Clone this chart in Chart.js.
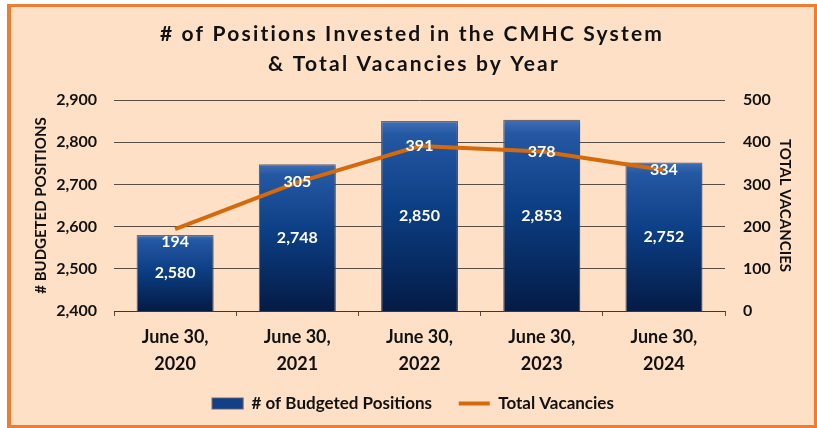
<!DOCTYPE html>
<html>
<head>
<meta charset="utf-8">
<script src="https://cdn.jsdelivr.net/npm/chart.js@4.4.1/dist/chart.umd.min.js"></script>
<style>
  html, body { margin: 0; padding: 0; background: #fff; }
  #frame {
    position: absolute; left: 7px; top: 4px; width: 810px; height: 424px;
    box-sizing: border-box; border-style: solid; border-color: #EE7D31;
    border-width: 3px 3px 3px 4px; background: #FDE0C5;
  }
  #cvs { position: absolute; left: 0; top: 0; }
</style>
</head>
<body>
<div id="frame"></div>
<canvas id="cvs" width="817" height="428"></canvas>
<script>
(function () {
  'use strict';

  // --- Data ---
  var years = [['June 30,', '2020'], ['June 30,', '2021'], ['June 30,', '2022'], ['June 30,', '2023'], ['June 30,', '2024']];
  var positions = [2580, 2748, 2850, 2853, 2752];
  var vacancies = [194, 305, 391, 378, 334];
  var titleLines = ['# of Positions Invested in the CMHC System', '& Total Vacancies by Year'];

  var FONT = 'Lato, "Open Sans", sans-serif';
  var INK = '#111111';
  var GRID = 'rgba(60, 52, 46, 0.85)';
  var ORANGE = '#D46A0C';

  function fmt(v) {
    return v.toLocaleString('en-US');
  }

  // per-bar vertical gradient, light top to dark navy bottom
  function barFill(ctx) {
    var chart = ctx.chart;
    var y = chart.scales && chart.scales.y;
    if (ctx.type !== 'data' || !y) return '#0B3A7E';
    var top = y.getPixelForValue(positions[ctx.dataIndex]);
    var bottom = y.getPixelForValue(y.min);
    if (!isFinite(top) || !isFinite(bottom) || bottom <= top) return '#0B3A7E';
    var g = chart.ctx.createLinearGradient(0, top, 0, bottom);
    g.addColorStop(0, '#3F70B8');
    g.addColorStop(0.07, '#2558A3');
    g.addColorStop(0.45, '#0C3F85');
    g.addColorStop(1, '#041B45');
    return g;
  }

  // --- title (letter-spaced), value labels, bar shadow ---
  var labelPlugin = {
    id: 'valueLabels',
    beforeDatasetDraw: function (chart, args) {
      if (args.index !== 0) return;
      var c = chart.ctx;
      c.save();
      c.shadowColor = 'rgba(0, 0, 0, 0.35)';
      c.shadowBlur = 4;
      c.shadowOffsetX = 2;
      c.shadowOffsetY = 2;
    },
    afterDatasetDraw: function (chart, args) {
      if (args.index !== 0) return;
      chart.ctx.restore();
    },
    afterDatasetsDraw: function (chart) {
      var c = chart.ctx;
      var bars = chart.getDatasetMeta(0).data;
      var pts = chart.getDatasetMeta(1).data;
      var base = chart.scales.y.bottom;
      c.save();
      c.font = 'bold 16px ' + FONT;
      c.fillStyle = '#ffffff';
      c.textAlign = 'center';
      c.textBaseline = 'middle';
      for (var i = 0; i < bars.length; i++) {
        var b = bars[i];
        c.fillText(fmt(positions[i]), b.x, (b.y + base) / 2);
      }
      for (var j = 0; j < pts.length; j++) {
        var p = pts[j];
        c.fillText(String(vacancies[j]), p.x, Math.max(p.y, bars[j].y + 7));
      }
      c.restore();
    },
    afterDraw: function (chart) {
      var c = chart.ctx;
      c.save();
      c.font = 'bold 21px ' + FONT;
      c.fillStyle = INK;
      c.textAlign = 'center';
      c.textBaseline = 'alphabetic';
      if ('letterSpacing' in c) c.letterSpacing = '2.2px';
      c.fillText(titleLines[0], 412, 41);
      c.fillText(titleLines[1], 414, 71);
      c.restore();
    }
  };

  new Chart(document.getElementById('cvs'), {
    type: 'bar',
    data: {
      labels: years,
      datasets: [
        {
          label: '# of Budgeted Positions',
          data: positions,
          backgroundColor: barFill,
          borderColor: 'rgba(95, 95, 115, 0.9)',
          borderWidth: 1.2,
          barPercentage: 0.63,
          categoryPercentage: 1,
          pointStyle: 'rect',
          yAxisID: 'y',
          order: 2
        },
        {
          label: 'Total Vacancies',
          data: vacancies,
          type: 'line',
          borderColor: ORANGE,
          backgroundColor: ORANGE,
          borderWidth: 4,
          pointRadius: 0,
          pointStyle: 'line',
          tension: 0,
          yAxisID: 'y1',
          order: 1
        }
      ]
    },
    options: {
      responsive: false,
      devicePixelRatio: 1,
      animation: false,
      layout: { padding: { left: 32, right: 23, top: 100, bottom: 6 } },
      plugins: {
        title: { display: false },
        legend: {
          display: true,
          position: 'bottom',
          labels: {
            usePointStyle: true,
            pointStyleWidth: 31,
            boxHeight: 11,
            padding: 14,
            color: INK,
            font: { family: FONT, size: 17, weight: 'bold' },
            sort: function (a, b) { return a.datasetIndex - b.datasetIndex; },
            generateLabels: function (chart) {
              var items = Chart.defaults.plugins.legend.labels.generateLabels(chart);
              items.forEach(function (it) {
                if (it.datasetIndex === 0) {
                  it.text = it.text + '\u2003';
                  it.fillStyle = '#123F86';
                }
              });
              return items;
            }
          }
        },
        tooltip: { enabled: false }
      },
      scales: {
        x: {
          grid: { display: true, drawOnChartArea: false, tickLength: 5, color: GRID, offset: true },
          border: { display: true, color: GRID },
          ticks: { color: INK, padding: 8, font: { family: FONT, size: 18, weight: 'bold', lineHeight: 1.5 } },
          afterFit: function (s) { s.height = 70; }
        },
        y: {
          position: 'left',
          min: 2400,
          max: 2900,
          ticks: {
            stepSize: 100,
            padding: 17,
            color: INK,
            font: { family: FONT, size: 16, weight: 'bold' },
            callback: function (v) { return fmt(v); }
          },
          grid: { color: GRID, drawTicks: false },
          border: { display: false },
          title: {
            display: true,
            text: '# BUDGETED POSITIONS',
            color: INK,
            padding: 0,
            font: { family: FONT, size: 15, weight: 'bold', lineHeight: 1.2 }
          },
          afterFit: function (s) { s.width = 82; }
        },
        y1: {
          position: 'right',
          min: 0,
          max: 500,
          ticks: {
            stepSize: 100,
            padding: 18,
            color: INK,
            font: { family: FONT, size: 16, weight: 'bold' }
          },
          grid: { display: false, drawTicks: false },
          border: { display: false },
          title: {
            display: true,
            text: 'TOTAL VACANCIES',
            color: INK,
            padding: 0,
            font: { family: FONT, size: 15, weight: 'bold', lineHeight: 1.2 }
          },
          afterFit: function (s) { s.width = 69; }
        }
      }
    },
    plugins: [labelPlugin]
  });
})();
</script>
</body>
</html>
